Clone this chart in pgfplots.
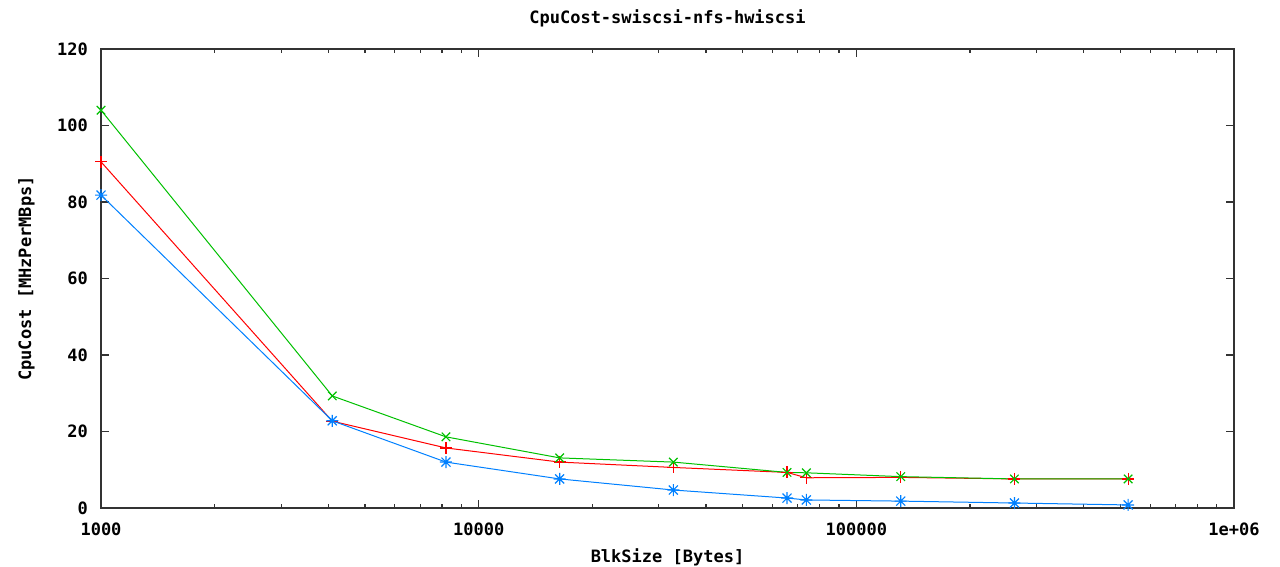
\documentclass[border=0pt]{standalone}
\usepackage{fontspec}
\setmainfont{DejaVu Sans Mono}
\usepackage{pgfplots}
\pgfplotsset{compat=1.18}
\definecolor{gred}{RGB}{255,0,0}
\definecolor{ggreen}{RGB}{0,192,0}
\definecolor{gblue}{RGB}{0,128,255}
\pgfdeclareplotmark{gstar}{%
  \pgfpathmoveto{\pgfqpoint{-\pgfplotmarksize}{0pt}}\pgfpathlineto{\pgfqpoint{\pgfplotmarksize}{0pt}}%
  \pgfpathmoveto{\pgfqpoint{0pt}{-\pgfplotmarksize}}\pgfpathlineto{\pgfqpoint{0pt}{\pgfplotmarksize}}%
  \pgfpathmoveto{\pgfqpoint{-0.75\pgfplotmarksize}{-0.75\pgfplotmarksize}}\pgfpathlineto{\pgfqpoint{0.75\pgfplotmarksize}{0.75\pgfplotmarksize}}%
  \pgfpathmoveto{\pgfqpoint{-0.75\pgfplotmarksize}{0.75\pgfplotmarksize}}\pgfpathlineto{\pgfqpoint{0.75\pgfplotmarksize}{-0.75\pgfplotmarksize}}%
  \pgfusepathqstroke}
\begin{document}
\begin{tikzpicture}
\begin{axis}[
  at={(0,0)}, anchor=south west,
  scale only axis, width=1133pt, height=459pt,
  xmode=log, xmin=1000, xmax=1000000,
  ymin=0, ymax=120, ytick={0,20,...,120},
  xtick={1000,10000,100000,1000000},
  xticklabels={1000,10000,100000,1e+06},
  minor xtick={2000,3000,4000,5000,6000,7000,8000,9000,20000,30000,40000,50000,60000,70000,80000,90000,200000,300000,400000,500000,600000,700000,800000,900000},
  major tick length=8pt, minor tick length=4pt,
  tick style={line width=1.2pt, color=black!80},
  axis line style={line width=1.4pt, color=black!80},
  tick pos=both,
  ticklabel style={font=\fontsize{17}{20}\selectfont\bfseries},
  yticklabel style={/pgf/number format/assume math mode=true, anchor=east, inner sep=0pt, xshift=-13pt},
  xticklabel style={anchor=north, inner sep=0pt, yshift=-15pt},
  title={CpuCost-swiscsi-nfs-hwiscsi},
  title style={font=\fontsize{17}{20}\selectfont\bfseries, at={([yshift=19pt]rel axis cs:0.5,1)}, anchor=base, inner sep=0pt},
  xlabel={BlkSize [Bytes]},
  xlabel style={font=\fontsize{17}{20}\selectfont\bfseries, at={([yshift=-55pt]rel axis cs:0.5,0)}, anchor=base, inner sep=0pt},
  ylabel={CpuCost [MHzPerMBps]},
  ylabel style={font=\fontsize{17}{20}\selectfont\bfseries, at={([xshift=-70pt]rel axis cs:0,0.5)}, anchor=base, inner sep=0pt, rotate=0},
  every axis plot/.append style={line width=1pt},
  mark size=6pt,
]
\addplot[color=gred, mark=+, mark options={line width=1.2pt}] coordinates {
(1000,90.5) (4096,22.7) (8192,15.7) (16384,12.0) (32768,10.6) (65536,9.3) (73728,7.9) (131072,8.0) (262144,7.6) (524288,7.6)};
\addplot[color=ggreen, mark=x, mark options={line width=1.2pt}] coordinates {
(1000,104.0) (4096,29.3) (8192,18.6) (16384,13.1) (32768,12.0) (65536,9.3) (73728,9.2) (131072,8.2) (262144,7.6) (524288,7.6)};
\addplot[color=gblue, mark=gstar, mark options={line width=1.2pt}] coordinates {
(1000,81.8) (4096,22.8) (8192,12.0) (16384,7.6) (32768,4.7) (65536,2.6) (73728,2.1) (131072,1.8) (262144,1.3) (524288,0.8)};
\end{axis}
\path[use as bounding box] (-101pt,-59pt) rectangle (1179pt,508pt);
\end{tikzpicture}
\end{document}
